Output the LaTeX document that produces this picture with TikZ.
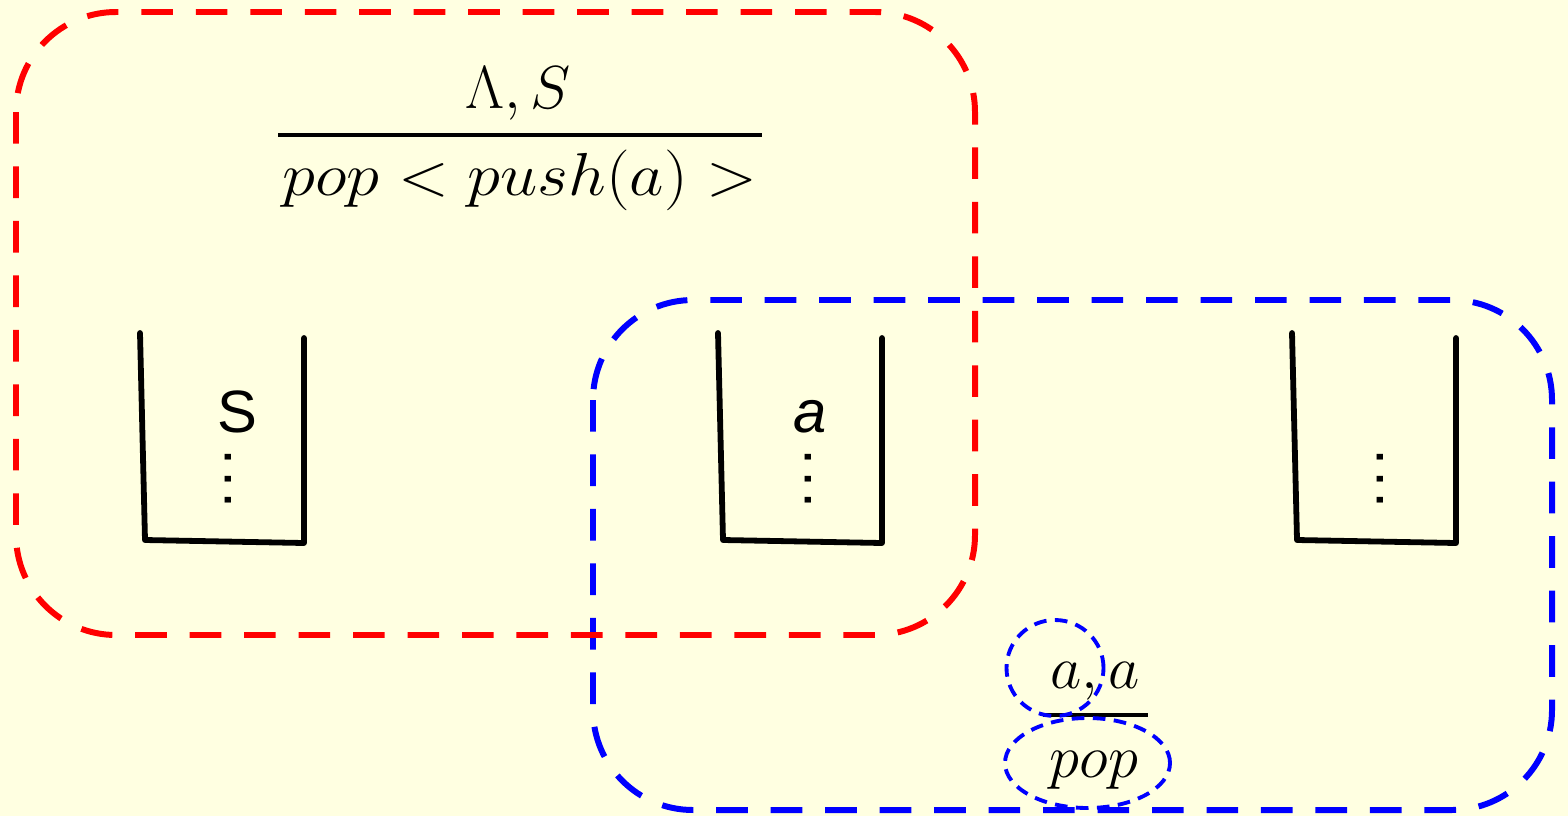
\documentclass[tikz,border=0pt]{standalone}
\usepackage{fontspec}
\newfontfamily\stackfont{Liberation Sans}
\definecolor{paper}{RGB}{255,255,225}
\definecolor{boxred}{RGB}{255,0,0}
\definecolor{boxblue}{RGB}{0,0,255}
\newcommand{\stackdots}{.\kern1.4pt.\kern1.4pt.}
\begin{document}
\begin{tikzpicture}[
  group/.style={line width=1.7pt,dash pattern=on 9pt off 6.5pt,rounded corners=1cm},
  mark ring/.style={line width=1.1pt,boxblue,dash pattern=on 3.6pt off 2.4pt},
  stackwall/.style={line width=1.65pt,black,line join=round,line cap=round},
  rule/.style={line width=.9pt,black},
  mathtext/.style={inner sep=0pt,font=\fontsize{17}{20}\selectfont},
  cell/.style={inner sep=0pt,font=\stackfont\fontsize{17}{20}\selectfont},
  dots/.style={inner sep=0pt,rotate=90,font=\stackfont\fontsize{17}{20}\selectfont}]
\useasboundingbox[fill=paper] (0,0) rectangle (15.68,8.16);

% the three stacks
\foreach \dx/\n in {0/one,5.78/two,11.52/three}{
  \begin{scope}[shift={(\dx,0)}]
    \coordinate (\n tl) at (1.40,4.83);
    \coordinate (\n bl) at (1.45,2.76);
    \coordinate (\n br) at (3.04,2.73);
    \coordinate (\n tr) at (3.04,4.78);
    \draw[stackwall] (\n tl)--(\n bl)--(\n br)--(\n tr);
  \end{scope}
}

\node[cell] (topS) at (2.37,4.04) {S};
\node[dots] (dotsone) at (2.28,3.37) {\stackdots};
\node[cell,font=\stackfont\itshape\fontsize{17}{20}\selectfont] (topa) at (8.10,3.99) {a};
\node[dots] (dotstwo) at (8.08,3.37) {\stackdots};
\node[dots] (dotsthree) at (13.80,3.37) {\stackdots};

% blue group with the pop rule
\draw[group,boxblue] (5.93,5.16) rectangle (15.52,0.06);

\node[mathtext,anchor=base] (popnum) at (10.95,1.28) {$a,a$};
\coordinate (popl) at (10.43,1.01);
\coordinate (popr) at (11.48,1.01);
\draw[rule] (popl)--(popr);
\node[mathtext,anchor=base] (popden) at (10.94,0.39) {$pop$};

\draw[mark ring] (10.55,1.48) ellipse (0.485 and 0.48);
\draw[mark ring] (10.875,0.53) ellipse (0.825 and 0.45);

% red group with the push rule
\draw[group,boxred] (0.16,8.04) rectangle (9.75,1.81);

\node[mathtext,anchor=base] (pushnum) at (5.18,7.08) {$\Lambda, S$};
\coordinate (pushl) at (2.78,6.81);
\coordinate (pushr) at (7.62,6.81);
\draw[rule] (pushl)--(pushr);
\node[mathtext,anchor=base,font=\fontsize{18}{21}\selectfont,xscale=1.1,transform shape]
  (pushden) at (5.20,6.21) {$pop < push(a) >$};

\end{tikzpicture}
\end{document}
